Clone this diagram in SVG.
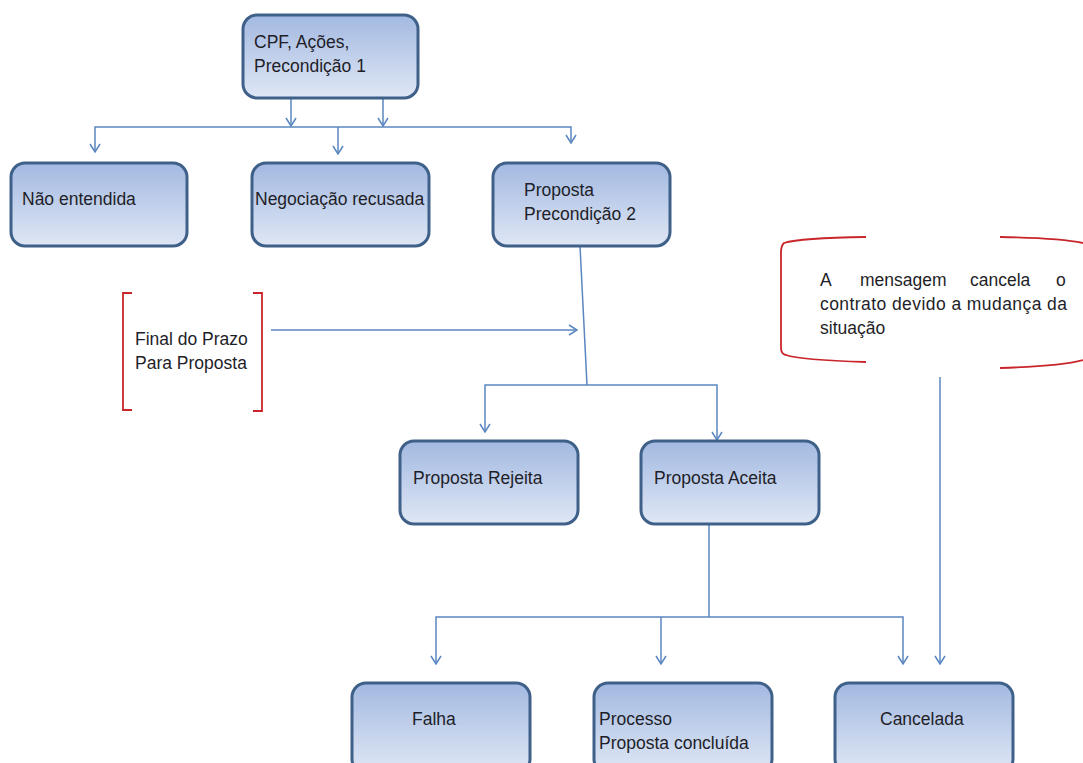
<svg xmlns="http://www.w3.org/2000/svg" width="1083" height="763" viewBox="0 0 1083 763">
<defs>
<linearGradient id="g" x1="0" y1="0" x2="0" y2="1">
<stop offset="0" stop-color="#a3b9e1"/>
<stop offset="1" stop-color="#dfe7f5"/>
</linearGradient>
<marker id="a" markerWidth="12" markerHeight="12" refX="11" refY="6" orient="auto-start-reverse" markerUnits="userSpaceOnUse" viewBox="0 0 12 12">
<path d="M3,1 L11,6 L3,11" fill="none" stroke="#5b87c0" stroke-width="1.5"/>
</marker>
</defs>
<style>
.n{fill:url(#g);stroke:#3f6089;stroke-width:3}
.t{font-family:"Liberation Sans",Arial,sans-serif;font-size:17.5px;fill:#1e1e28}
.c{fill:none;stroke:#5b87c0;stroke-width:1.5}
.b{fill:none;stroke:#c8262b;stroke-width:1.8}
</style>
<rect width="1083" height="763" fill="#ffffff"/>
<g id="connectors">
<path class="c" d="M291,98 V126" marker-end="url(#a)"/>
<path class="c" d="M383,98 V126" marker-end="url(#a)"/>
<path class="c" d="M95,152 V127 H571 V143" marker-end="url(#a)" marker-start="url(#a)"/>
<path class="c" d="M338,127 V154" marker-end="url(#a)"/>
<path class="c" d="M580,246 L587,385"/>
<path class="c" d="M485,432 V385 H717 V440" marker-start="url(#a)" marker-end="url(#a)"/>
<path class="c" d="M271,330 H577" marker-end="url(#a)"/>
<path class="c" d="M709,524 V617"/>
<path class="c" d="M436,664 V617 H903 V664" marker-start="url(#a)" marker-end="url(#a)"/>
<path class="c" d="M661,617 V664" marker-end="url(#a)"/>
<path class="c" d="M940,377 V664" marker-end="url(#a)"/>
</g>
<g id="n-cpf">
<rect class="n" x="243" y="15" width="175" height="83" rx="14"/>
<text class="t" x="254" y="48">CPF, Ações,</text>
<text class="t" x="254" y="72">Precondição 1</text>
</g>
<g id="n-nao">
<rect class="n" x="11" y="163" width="176" height="83" rx="14"/>
<text class="t" x="22" y="205">Não entendida</text>
</g>
<g id="n-neg">
<rect class="n" x="252" y="163" width="177" height="83" rx="14"/>
<text class="t" x="255" y="205">Negociação recusada</text>
</g>
<g id="n-prop">
<rect class="n" x="493" y="163" width="177" height="83" rx="14"/>
<text class="t" x="524" y="196">Proposta</text>
<text class="t" x="524" y="220">Precondição 2</text>
</g>
<g id="n-prazo">
<path class="b" d="M132,293 H123 V410 H132"/>
<path class="b" d="M253,293 H262 V411 H253"/>
<text class="t" x="135" y="345">Final do Prazo</text>
<text class="t" x="135" y="369">Para Proposta</text>
</g>
<g id="n-msg">
<path class="b" d="M866,237 Q800,238 784,243 Q781,246 781,252 V348 Q781,354 786,355 Q800,360 866,362"/>
<path class="b" d="M1000,237 Q1060,238 1083,243"/>
<path class="b" d="M1000,368 Q1060,366 1083,360"/>
<text class="t" x="820" y="286">A</text>
<text class="t" x="860" y="286">mensagem</text>
<text class="t" x="970" y="286">cancela</text>
<text class="t" x="1056" y="286">o</text>
<text class="t" x="820" y="310" textLength="247">contrato devido a mudança da</text>
<text class="t" x="820" y="334">situação</text>
</g>
<g id="n-rej">
<rect class="n" x="400" y="441" width="178" height="83" rx="14"/>
<text class="t" x="413" y="484">Proposta Rejeita</text>
</g>
<g id="n-ace">
<rect class="n" x="641" y="441" width="178" height="83" rx="14"/>
<text class="t" x="654" y="484">Proposta Aceita</text>
</g>
<g id="n-falha">
<rect class="n" x="352" y="683" width="178" height="90" rx="14"/>
<text class="t" x="412" y="725">Falha</text>
</g>
<g id="n-proc">
<rect class="n" x="594" y="683" width="178" height="90" rx="14"/>
<text class="t" x="599" y="725">Processo</text>
<text class="t" x="599" y="749">Proposta concluída</text>
</g>
<g id="n-canc">
<rect class="n" x="835" y="683" width="178" height="90" rx="14"/>
<text class="t" x="880" y="725">Cancelada</text>
</g>
</svg>
